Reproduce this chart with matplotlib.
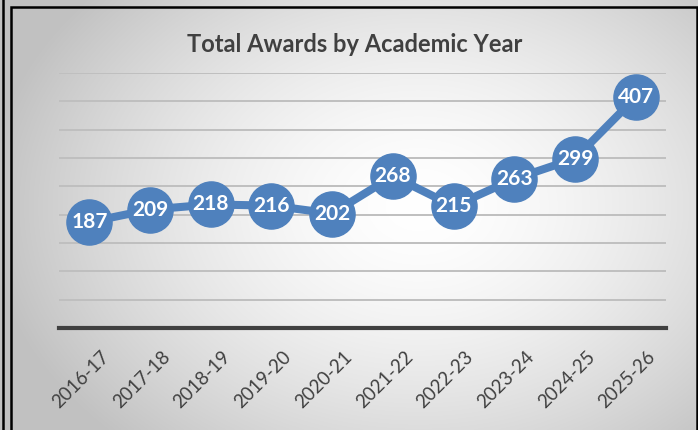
import numpy as np
import matplotlib.pyplot as plt
import matplotlib.transforms as mtransforms
from matplotlib.patches import Rectangle
from matplotlib.lines import Line2D

years = ["2016-17", "2017-18", "2018-19", "2019-20", "2020-21",
         "2021-22", "2022-23", "2023-24", "2024-25", "2025-26"]
awards = [187, 209, 218, 216, 202, 268, 215, 263, 299, 407]

BLUE = "#4F81BD"
DARK = "#404040"

plt.rcParams['font.family'] = ['Lato', 'DejaVu Sans']

fig = plt.figure(figsize=(6.98, 4.30), dpi=100)

# Radial gradient background, white near the middle, gray at the edges
bg = fig.add_axes([0, 0, 1, 1], zorder=-10)
gx, gy = np.meshgrid(np.linspace(0, 1, 350), np.linspace(0, 1, 215))
d = np.sqrt(((gx - 0.60) / 0.62) ** 2 + ((gy - 0.48) / 0.75) ** 2)
shade = 1.0 - 0.24 * np.clip(d, 0, 1) ** 1.6
bg.imshow(np.dstack([shade] * 3), extent=[0, 1, 0, 1], aspect='auto',
          origin='upper', interpolation='bilinear')
bg.set_xlim(0, 1)
bg.set_ylim(0, 1)
bg.axis('off')

# chart border
fig.add_artist(Rectangle((11.5 / 698, -0.01), (697 - 11.5) / 698, (430 - 6.5) / 430 + 0.01,
                         transform=fig.transFigure, fill=False, edgecolor='black', lw=1.8))
fig.add_artist(Line2D([3 / 698, 3 / 698], [0, 1], transform=fig.transFigure,
                      color='black', lw=1.8))

ax = fig.add_axes([59 / 698, 1 - 328 / 430, (666 - 59) / 698, (328 - 73) / 430])
ax.patch.set_alpha(0)
x = np.arange(len(years))
ax.plot(x, awards, color=BLUE, lw=5.8, marker='o', markersize=32.5,
        markerfacecolor=BLUE, markeredgecolor=BLUE, zorder=3, clip_on=False)
for xi, v in zip(x, awards):
    ax.text(xi, v, str(v), ha='center', va='center', color='white',
            fontsize=15, fontweight='bold', zorder=4)

ax.set_xlim(-0.5, len(years) - 0.5)
ax.set_ylim(0, 450)
ax.set_yticks(np.arange(50, 451, 50))
ax.yaxis.grid(True, color='#bfbfbf', lw=1.4)
ax.set_axisbelow(True)
ax.tick_params(axis='y', left=False, labelleft=False)
ax.set_xticks(x)
ax.set_xticklabels([])
ax.tick_params(axis='x', length=0)

# rotated category labels, placed by hand so they sit like Excel's
shift = mtransforms.ScaledTranslation(11 / 100, -20 / 100, fig.dpi_scale_trans)
for xi, lbl in zip(x, years):
    ax.text(xi, 0, lbl, transform=ax.get_xaxis_transform() + shift,
            rotation=45, ha='right', va='top', rotation_mode='anchor',
            fontsize=13.5, color=DARK)

for s in ['top', 'right', 'left']:
    ax.spines[s].set_visible(False)
ax.spines['bottom'].set_color(DARK)
ax.spines['bottom'].set_linewidth(3)

fig.text(355 / 698, 1 - 45 / 430, "Total Awards by Academic Year", ha='center',
         va='center', fontsize=17, fontweight='bold', color=DARK)

fig.savefig("out.png", dpi=100)
